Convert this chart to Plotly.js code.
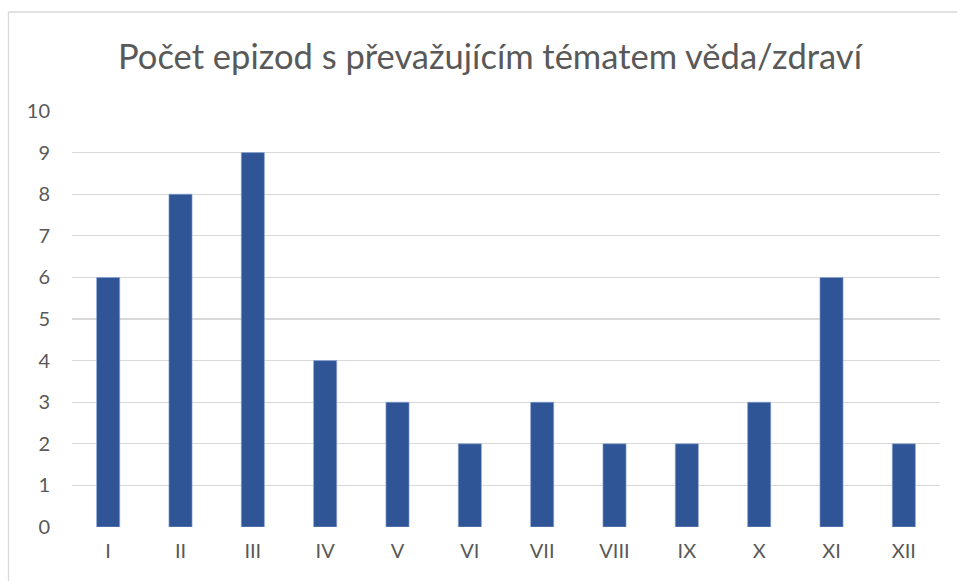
<!DOCTYPE html>
<html>
<head>
<meta charset="utf-8">
<script src="https://cdn.plot.ly/plotly-3.0.1.min.js"></script>
<style>html,body{margin:0;padding:0;background:#fff;} #chart{width:957px;height:581px;}</style>
</head>
<body>
<div id="chart"></div>
<script>
const months = ["I","II","III","IV","V","VI","VII","VIII","IX","X","XI","XII"];
const episodes = [6, 8, 9, 4, 3, 2, 3, 2, 2, 3, 6, 2];
const yTicks = [0,1,2,3,4,5,6,7,8,9,10];
const chartTitle = "Počet epizod s převažujícím tématem věda/zdraví";

const fontFam = "Lato, 'Open Sans', 'Noto Sans', sans-serif";
const textColor = "#595959";

Plotly.newPlot("chart", [{
  type: "bar",
  x: months,
  y: episodes,
  marker: {color: "#2F5597", line: {color: "#8FA9D6", width: 0.6}},
  hoverinfo: "x+y"
}], {
  width: 957, height: 581,
  margin: {l: 72, r: 17, t: 111, b: 54},
  paper_bgcolor: "#fff", plot_bgcolor: "#fff",
  bargap: 0.68,
  showlegend: false,
  title: {text: chartTitle, x: 0.512, xanchor: "center", xref: "container",
          y: 0.902, yanchor: "middle", yref: "container",
          font: {family: fontFam, size: 34.5, color: textColor}},
  xaxis: {type: "category", showgrid: false, zeroline: false, showline: false, ticks: "",
          ticklabelstandoff: 10,
          tickfont: {family: fontFam, size: 20, color: textColor}},
  yaxis: {range: [0, 10], tickvals: yTicks, ticktext: yTicks.map(String),
          showgrid: true, gridcolor: "#D9D9D9", gridwidth: 1.3, zeroline: false,
          showline: false, ticks: "", ticklabelstandoff: 21,
          tickfont: {family: fontFam, size: 20, color: textColor}},
  shapes: [
    {type: "line", xref: "paper", yref: "paper", x0: -0.0732, x1: 1.05, y0: 1.238, y1: 1.238,
     line: {color: "#D9D9D9", width: 1.3}},
    {type: "line", xref: "paper", yref: "paper", x0: -0.0732, x1: -0.0732, y0: 1.238, y1: -0.2,
     line: {color: "#D9D9D9", width: 1.3}}
  ]
}, {displayModeBar: false, staticPlot: true});
</script>
</body>
</html>
